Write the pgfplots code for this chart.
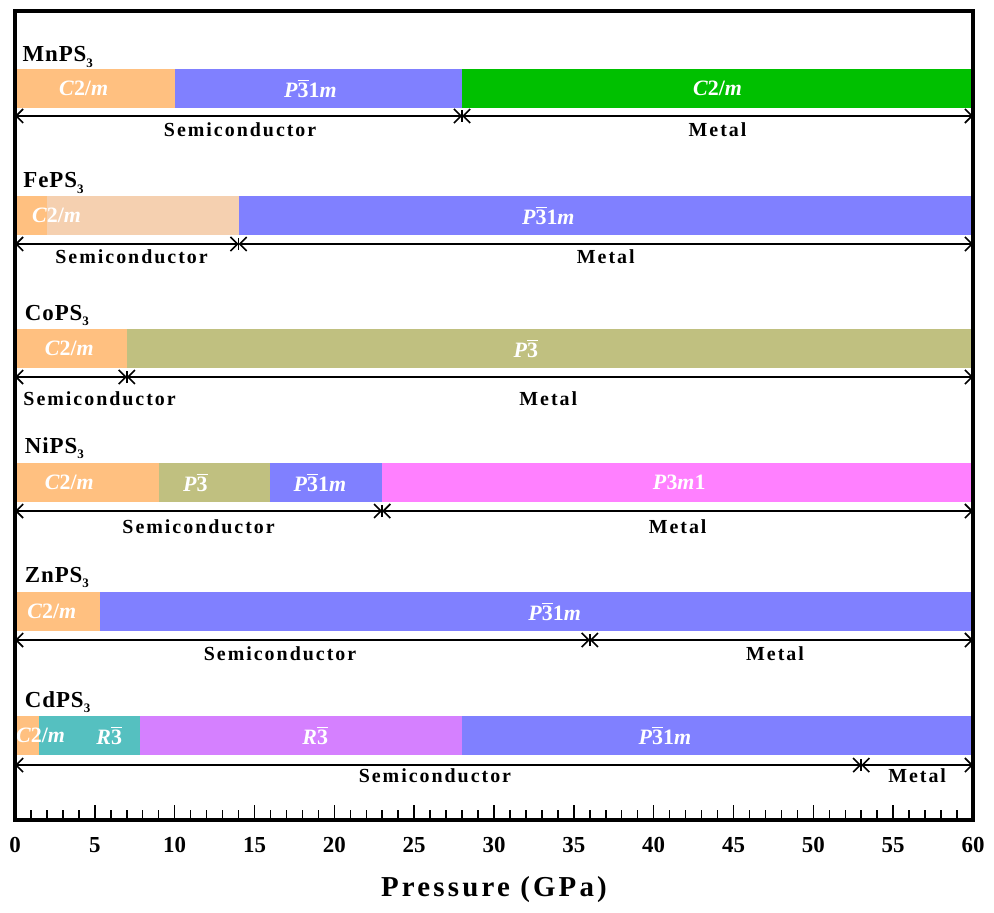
\documentclass[border=0pt]{standalone}
\usepackage{fontspec}
\setmainfont{Liberation Serif}
\newfontfamily\spaced[LetterSpace=10]{Liberation Serif}
\newfontfamily\lspaced[LetterSpace=4]{Liberation Serif}
\newfontfamily\xspaced[LetterSpace=11]{Liberation Serif}
\usepackage{pgfplots}
\pgfplotsset{compat=1.18}
\usetikzlibrary{arrows.meta}

\definecolor{cOr}{RGB}{255,192,128}
\definecolor{cBl}{RGB}{128,128,255}
\definecolor{cGr}{RGB}{0,192,0}
\definecolor{cPe}{RGB}{245,208,176}
\definecolor{cOl}{RGB}{192,192,128}
\definecolor{cMa}{RGB}{255,128,255}
\definecolor{cTe}{RGB}{85,192,192}
\definecolor{cPu}{RGB}{213,128,255}

% space-group labels
\newcommand{\ob}{$\overline{\mbox{3}}$}
\newcommand{\Ctm}{\textit{C}2/\textit{m}}
\newcommand{\Pmm}{\textit{P}\ob1\textit{m}}
\newcommand{\Pt}{\textit{P}\ob}
\newcommand{\Rt}{\textit{R}\ob}
\newcommand{\Ptm}{\textit{P}3\textit{m}1}
\newcommand{\sub}{\raisebox{-2.8bp}{\fontsize{6.5}{7}\selectfont 3}}

% #1 colour, #2 from, #3 to (GPa), #4 top, #5 bottom
\newcommand{\seg}[5]{\addplot[draw=none, fill=#1] coordinates {(#2,#4) (#3,#4) (#3,#5) (#2,#5)} --cycle;}
% #1 from, #2 to, #3 height
\newcommand{\arr}[3]{\addplot[arr] coordinates {(#1,#3) (#2,#3)};}
% boundary bar: #1 x, #2 low, #3 high
\newcommand{\sep}[3]{\addplot[black, line width=0.8bp] coordinates {(#1,#2) (#1,#3)};}

\tikzset{
  arr/.style={black, line width=0.8bp, {Straight Barb[length=3.5bp,width=7bp]}-{Straight Barb[length=3.5bp,width=7bp]}},
  phase/.style={text=white, font=\bfseries\fontsize{11}{12}\selectfont},
  state/.style={font=\spaced\bfseries\fontsize{10}{12}\selectfont},
  cmpd/.style={anchor=base west, inner sep=0pt, font=\lspaced\bfseries\fontsize{11.5}{13}\selectfont},
}

\begin{document}
\begin{tikzpicture}
\begin{axis}[
  scale only axis, width=479bp, height=404.5bp,
  xmin=0, xmax=60, ymin=0, ymax=809,
  clip=false, axis on top,
  axis line style={line width=1.9bp},
  xtick={0,5,...,60}, minor x tick num=4,
  ytick=\empty, xtick pos=bottom,
  tick align=inside,
  major tick length=7.5bp, minor tick length=5bp,
  every tick/.style={black, line width=0.75bp},
  tick label style={font=\bfseries\fontsize{11.5}{12}\selectfont},
  xticklabel style={anchor=base, yshift=-16bp},
  /pgf/number format/assume math mode=true,
  xlabel={Pressure (GPa)},
  xlabel style={font=\xspaced\bfseries\fontsize{14.5}{17}\selectfont, at={(axis description cs:0.5,0)}, anchor=base, yshift=-38bp},
]
\coordinate (sw) at (rel axis cs:0,0);
\coordinate (ne) at (rel axis cs:1,1);

% MnPS3
\seg{cOr}{0}{10}{751}{712}
\seg{cBl}{10}{28}{751}{712}
\seg{cGr}{28}{60}{751}{712}
\arr{0}{28}{704} \arr{28}{60}{704} \sep{28}{698}{710}
\node[cmpd] at (axis cs:0.45,758) {MnPS\sub};
\node[phase] at (axis cs:4.3,731.5) {\Ctm};
\node[phase] at (axis cs:18.5,731.5) {\Pmm};
\node[phase] at (axis cs:44,731.5) {\Ctm};
\node[state] at (axis cs:14.1,690) {Semiconductor};
\node[state] at (axis cs:44,690) {Metal};

% FePS3
\seg{cOr}{0}{2}{624}{585}
\seg{cPe}{2}{14}{624}{585}
\seg{cBl}{14}{60}{624}{585}
\arr{0}{14}{576} \arr{14}{60}{576} \sep{14}{570}{582}
\node[cmpd] at (axis cs:0.5,632) {FePS\sub};
\node[phase] at (axis cs:2.6,604.5) {\Ctm};
\node[phase] at (axis cs:33.4,604.5) {\Pmm};
\node[state] at (axis cs:7.3,563) {Semiconductor};
\node[state] at (axis cs:37,563) {Metal};

% CoPS3
\seg{cOr}{0}{7}{491}{452}
\seg{cOl}{7}{60}{491}{452}
\arr{0}{7}{443} \arr{7}{60}{443} \sep{7}{437}{449}
\node[cmpd] at (axis cs:0.6,500) {CoPS\sub};
\node[phase] at (axis cs:3.4,471.5) {\Ctm};
\node[phase] at (axis cs:32,471.5) {\Pt};
\node[state] at (axis cs:5.3,421) {Semiconductor};
\node[state] at (axis cs:33.4,421) {Metal};

% NiPS3
\seg{cOr}{0}{9}{357}{318}
\seg{cOl}{9}{16}{357}{318}
\seg{cBl}{16}{23}{357}{318}
\seg{cMa}{23}{60}{357}{318}
\arr{0}{23}{309} \arr{23}{60}{309} \sep{23}{303}{315}
\node[cmpd] at (axis cs:0.6,367) {NiPS\sub};
\node[phase] at (axis cs:3.4,337.5) {\Ctm};
\node[phase] at (axis cs:11.3,337.5) {\Pt};
\node[phase] at (axis cs:19.1,337.5) {\Pmm};
\node[phase] at (axis cs:41.6,337.5) {\Ptm};
\node[state] at (axis cs:11.5,293) {Semiconductor};
\node[state] at (axis cs:41.5,293) {Metal};

% ZnPS3
\seg{cOr}{0}{5.3}{228}{189}
\seg{cBl}{5.3}{60}{228}{189}
\arr{0}{36}{180} \arr{36}{60}{180} \sep{36}{174}{186}
\node[cmpd] at (axis cs:0.6,238) {ZnPS\sub};
\node[phase] at (axis cs:2.3,208.5) {\Ctm};
\node[phase] at (axis cs:33.8,208.5) {\Pmm};
\node[state] at (axis cs:16.6,166) {Semiconductor};
\node[state] at (axis cs:47.6,166) {Metal};

% CdPS3
\seg{cOr}{0}{1.5}{104}{65}
\seg{cTe}{1.5}{7.8}{104}{65}
\seg{cPu}{7.8}{28}{104}{65}
\seg{cBl}{28}{60}{104}{65}
\arr{0}{53}{55} \arr{53}{60}{55} \sep{53}{49}{61}
\node[cmpd] at (axis cs:0.6,113) {CdPS\sub};
\node[phase] at (axis cs:1.6,84.5) {\Ctm};
\node[phase] at (axis cs:5.9,84.5) {\Rt};
\node[phase] at (axis cs:18.8,84.5) {\Rt};
\node[phase] at (axis cs:40.7,84.5) {\Pmm};
\node[state] at (axis cs:26.3,44) {Semiconductor};
\node[state] at (axis cs:56.5,44) {Metal};
\end{axis}
\path ([shift={(-7.5bp,-46bp)}]sw) rectangle ([shift={(10.5bp,5.5bp)}]ne);
\end{tikzpicture}
\end{document}
